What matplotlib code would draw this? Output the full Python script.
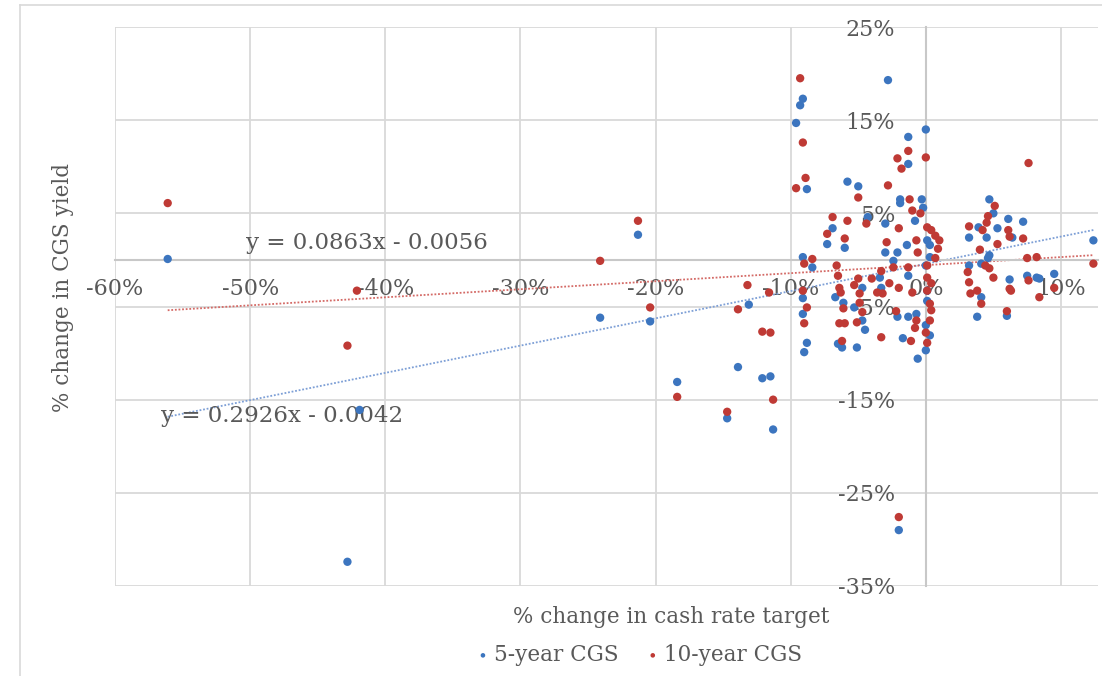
import matplotlib
matplotlib.use("Agg")
import matplotlib.pyplot as plt
from matplotlib.lines import Line2D
from matplotlib.ticker import FuncFormatter

# % change in cash rate target (x) vs % change in CGS yield (y), in percent
x_5y = [-56.1, -42.8, -41.9, -24.1, -21.3, -20.4, -18.4, -14.7, -13.9, -13.1,
        -12.1, -11.5, -11.3, -9.1, -9.3, -9.6, -2.8, 0.0, -1.3, -1.3,
        -8.8, -5.8, -5.0, -1.9, -0.3, -6.9, -7.3, -6.0, -4.3, -3.0,
        -1.9, -0.2, -0.8, -3.0, -2.1, -1.4, 0.1, -9.1, -8.4, -2.4,
        -3.4, -1.3, 0.3, -4.7, -3.3, -9.1, -9.1, -8.8, -9.0, -6.7,
        -6.1, -6.5, -6.2, -5.1, -5.3, -4.7, -4.5, -2.1, -1.3, -0.7,
        -1.7, 0.0, -0.6, 0.1, -2.0, 4.7, 5.0, 3.9, 3.2, 4.5,
        5.3, 6.1, 7.2, 6.4, 12.4, 4.7, 4.6, 3.2, 4.1, 6.2,
        7.5, 8.2, 8.4, 9.5, 4.1, 3.8, 6.0, 0.3, 0.0, 0.1,
        0.0, 0.3]
y_5y = [0.1, -32.4, -16.1, -6.2, 2.7, -6.6, -13.1, -17.0, -11.5, -4.8,
        -12.7, -12.5, -18.2, 17.3, 16.6, 14.7, 19.3, 14.0, 13.2, 10.3,
        7.6, 8.4, 7.9, 6.5, 6.5, 3.4, 1.7, 1.3, 4.6, 3.9,
        6.1, 5.6, 4.2, 0.8, 0.8, 1.6, 2.1, 0.3, -0.8, -0.1,
        -1.9, -1.7, 0.3, -3.0, -3.0, -4.1, -5.8, -8.9, -9.9, -4.0,
        -4.6, -9.0, -9.4, -9.4, -5.1, -6.5, -7.5, -6.1, -6.1, -5.8,
        -8.4, -9.7, -10.6, -4.4, -29.0, 6.5, 5.0, 3.5, 2.4, 2.4,
        3.4, 4.4, 4.1, 2.4, 2.1, 0.5, 0.2, -0.6, -0.4, -2.1,
        -1.7, -1.9, -2.0, -1.5, -4.0, -6.1, -6.0, 1.6, -0.6, -3.3,
        -7.0, -8.1]

x_10y = [-56.1, -42.8, -42.1, -24.1, -21.3, -20.4, -18.4, -14.7, -13.2, -13.9,
         -12.1, -11.5, -11.3, -11.6, -9.3, -9.1, -1.3, -2.1, -1.8, 0.0,
         -8.9, -9.6, -2.8, -5.0, -1.2, -6.9, -5.8, -7.3, -6.0, -4.4,
         -2.0, -1.0, -0.4, 0.1, 0.4, -2.9, -0.7, -0.6, -9.0, -8.4,
         -6.6, -6.5, -2.4, -3.3, -1.3, 0.1, 0.1, -5.0, -4.0, -6.4,
         -2.7, -9.1, -8.8, -9.0, -6.3, -6.1, -6.4, -6.0, -6.2, -5.3,
         -4.9, -4.7, -5.1, -4.9, -3.6, -3.2, -3.3, -2.2, -2.0, -1.0,
         -0.7, -0.8, -1.1, 0.0, 0.4, 0.3, 0.1, 0.4, -2.0, 7.6,
         5.1, 4.6, 4.5, 3.2, 4.2, 6.1, 6.2, 7.2, 5.3, 4.0,
         12.4, 7.5, 8.2, 4.4, 4.7, 3.1, 5.0, 7.6, 3.2, 6.2,
         9.5, 3.3, 3.8, 4.1, 6.3, 8.4, 6.0, 0.7, 1.0, 0.9,
         0.7, 0.3, 0.1]
y_10y = [6.1, -9.2, -3.3, -0.1, 4.2, -5.1, -14.7, -16.3, -2.7, -5.3,
         -7.7, -7.8, -15.0, -3.5, 19.5, 12.6, 11.7, 10.9, 9.8, 11.0,
         8.8, 7.7, 8.0, 6.7, 6.5, 4.6, 4.2, 2.8, 2.3, 3.9,
         3.4, 5.3, 5.0, 3.5, 3.2, 1.9, 2.1, 0.8, -0.4, 0.1,
         -0.6, -1.7, -0.8, -1.2, -0.8, -0.6, -1.9, -2.0, -2.0, -3.0,
         -2.5, -3.3, -5.1, -6.8, -3.5, -5.2, -6.8, -6.8, -8.7, -2.7,
         -4.6, -5.6, -6.7, -3.6, -3.5, -3.6, -8.3, -5.5, -3.0, -3.5,
         -6.5, -7.3, -8.7, -7.8, -5.4, -4.7, -3.3, -2.5, -27.6, 10.4,
         5.8, 4.7, 4.0, 3.6, 3.2, 3.2, 2.5, 2.3, 1.7, 1.1,
         -0.4, 0.2, 0.3, -0.6, -0.9, -1.3, -1.9, -2.2, -2.4, -3.1,
         -3.0, -3.6, -3.3, -4.7, -3.3, -4.0, -5.5, 2.6, 2.1, 1.2,
         0.2, -6.5, -8.9]

# Excel linear trendlines (slope, intercept)
trend_5y = [0.2926, -0.0042]
trend_10y = [0.0863, -0.0056]

x_ticks = [-0.6, -0.5, -0.4, -0.3, -0.2, -0.1, 0.0, 0.1]
y_ticks = [-0.35, -0.25, -0.15, -0.05, 0.05, 0.15, 0.25]

BLUE = "#3c75bf"
RED = "#bf3a35"
TXT = "#595959"
GRID = "#d9d9d9"

plt.rcParams["font.family"] = ["DejaVu Serif"]

fig = plt.figure(figsize=(11.02, 6.76), dpi=100)
ax = fig.add_axes([115 / 1102, 1 - 586 / 676, (1098 - 115) / 1102, (586 - 27) / 676])

xs5 = [v / 100 for v in x_5y]
ys5 = [v / 100 for v in y_5y]
xs10 = [v / 100 for v in x_10y]
ys10 = [v / 100 for v in y_10y]

ax.scatter(xs5, ys5, s=36, color=BLUE, edgecolors="none", zorder=3, label="5-year CGS")
ax.scatter(xs10, ys10, s=36, color=RED, edgecolors="none", zorder=3, label="10-year CGS")

# trendlines over the data range
for xs, (m, b), c in [(xs5, trend_5y, "#7d9fd6"), (xs10, trend_10y, "#d46a66")]:
    lo, hi = min(xs), max(xs)
    ax.plot([lo, hi], [m * lo + b, m * hi + b], color=c, lw=1.3,
            ls=(0, (1, 1)), zorder=2)

ax.text(-0.503, 0.0177, "y = 0.0863x - 0.0056", color=TXT, fontsize=16.5,
        va="center", ha="left", zorder=2)
ax.text(-0.566, -0.167, "y = 0.2926x - 0.0042", color=TXT, fontsize=16.5,
        va="center", ha="left", zorder=2)

ax.set_xlim(-0.6, (1098 - 926) / 1350)
ax.set_ylim(-0.35, 0.25)
ax.set_xticks(x_ticks)
ax.set_yticks(y_ticks)
pct = FuncFormatter(lambda v, _: f"{round(v * 100):d}%")
ax.xaxis.set_major_formatter(pct)
ax.yaxis.set_major_formatter(pct)
ax.tick_params(length=0, colors=TXT, labelsize=16)
ax.tick_params(axis="x", pad=13)
ax.tick_params(axis="y", pad=22)

ax.spines["left"].set_position(("data", 0))
ax.spines["bottom"].set_position(("data", 0))
for s in ["left", "bottom"]:
    ax.spines[s].set_color("#c8c8c8")
    ax.spines[s].set_linewidth(1.5)
for s in ["top", "right"]:
    ax.spines[s].set_visible(False)

ax.grid(True, color=GRID, lw=1.3)
ax.set_axisbelow(True)

fig.text(0.057, 1 - 288 / 676, "% change in CGS yield", rotation=90,
         color=TXT, fontsize=15.5, ha="center", va="center")
fig.text(671 / 1102, 1 - 617 / 676, "% change in cash rate target",
         color=TXT, fontsize=15.5, ha="center", va="center")

fig.legend(loc="center", bbox_to_anchor=(638 / 1102, 1 - 655 / 676), ncol=2,
           frameon=False, fontsize=15.5, labelcolor=TXT, markerscale=0.55,
           handletextpad=0.1, columnspacing=1.2, handlelength=0.8)

# chart area border
fig.add_artist(Line2D([20 / 1102, 20 / 1102], [0, 1 - 5 / 676], color=GRID, lw=1.2))
fig.add_artist(Line2D([20 / 1102, 1], [1 - 5 / 676, 1 - 5 / 676], color=GRID, lw=1.2))

fig.savefig("out.png", dpi=100, facecolor="white")
